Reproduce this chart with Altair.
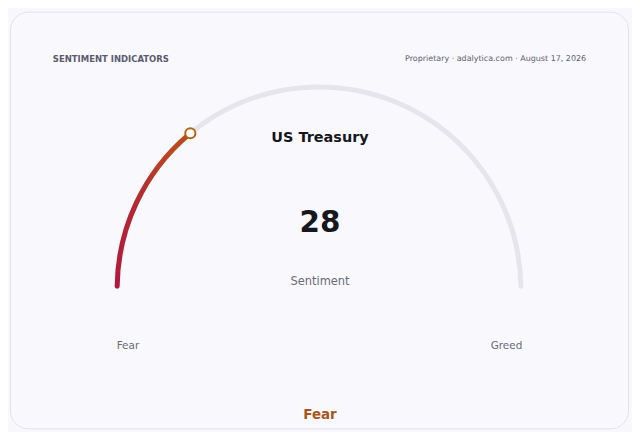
import math
import altair as alt
import pandas as pd

# ---- data ----
TITLE = ["US Treasury"]
VALUE = [28]
SCALE_MIN = [0]
SCALE_MAX = [100]
VALUE_LABEL = ["Sentiment"]
END_LABELS = ["Fear", "Greed"]
ZONE = ["Fear"]
HEADER_LEFT = ["SENTIMENT INDICATORS"]
HEADER_RIGHT = ["Proprietary · adalytica.com · August 17, 2026"]

# ---- layout ----
W, H = 620, 418
R = 202.5
XE = (W / 2) / R
CY = 278
Y_TOP = CY / R
Y_BOT = -(H - CY) / R
STROKE = 5

FONT = "DejaVu Sans"

xs = alt.Scale(domain=[-XE, XE], range=[0, W])
ys = alt.Scale(domain=[Y_BOT, Y_TOP], range=[H, 0])
ts = alt.Scale(domain=[SCALE_MIN[0], SCALE_MAX[0]], range=[-math.pi / 2, math.pi / 2])

track_df = pd.DataFrame({"start": SCALE_MIN, "end": SCALE_MAX})
val_df = pd.DataFrame({"start": SCALE_MIN, "end": VALUE, "value": VALUE,
                       "lo": SCALE_MIN, "hi": SCALE_MAX})

track = alt.Chart(track_df).mark_arc(
    radius=R + STROKE / 2, radius2=R - STROKE / 2, cornerRadius=STROKE / 2,
    color="#e5e5eb"
).encode(
    x=alt.datum(0, scale=xs, axis=None),
    y=alt.datum(0, scale=ys, axis=None),
    theta=alt.Theta("start:Q", scale=ts),
    theta2="end:Q",
)

grad = alt.LinearGradient(
    gradient="linear",
    stops=[alt.GradientStop(offset=0, color="#b3173f"),
           alt.GradientStop(offset=0.55, color="#b42a32"),
           alt.GradientStop(offset=1, color="#ba4a1c")],
    x1=0, y1=1, x2=0.6, y2=0,
)

value_arc = alt.Chart(val_df).mark_arc(
    radius=R + STROKE / 2, radius2=R - STROKE / 2, cornerRadius=STROKE / 2,
    color=grad
).encode(
    x=alt.datum(0, scale=xs, axis=None),
    y=alt.datum(0, scale=ys, axis=None),
    theta=alt.Theta("start:Q", scale=ts),
    theta2="end:Q",
)

marker = alt.Chart(val_df).transform_calculate(
    a="PI * (datum.value - datum.lo) / (datum.hi - datum.lo)",
    px="-cos(datum.a)",
    py="sin(datum.a)",
).mark_point(
    shape="circle", filled=True, fill="#fbfbfd", stroke="#b9620f",
    strokeWidth=2, size=105, opacity=1
).encode(
    x=alt.X("px:Q", scale=xs, axis=None),
    y=alt.Y("py:Q", scale=ys, axis=None),
)

def txt(data, field, x, y, size, color, weight="normal", align="center"):
    return alt.Chart(pd.DataFrame({field: data})).mark_text(
        font=FONT, fontSize=size, fontWeight=weight, color=color,
        align=align, baseline="middle"
    ).encode(x=alt.value(x), y=alt.value(y), text=f"{field}:N")

title = txt(TITLE, "t", W / 2 + 1, 127, 14.5, "#17171f", "bold")
number = txt([str(v) for v in VALUE], "t", W / 2 + 1, 212, 29.5, "#17171f", "bold")
sub = txt(VALUE_LABEL, "t", W / 2 + 1, 271, 11.5, "#6b6b78")
left_lab = txt(END_LABELS[:1], "t", 107, 335, 10.5, "#6b6b78", align="left")
right_lab = txt(END_LABELS[1:], "t", 514, 335, 10.5, "#6b6b78", align="right")
zone = txt(ZONE, "t", W / 2 + 1, 405, 13.5, "#a8561c", "bold")
hl = txt(HEADER_LEFT, "t", 43, 47, 8.5, "#5b5b70", "bold", align="left")
hr = txt(HEADER_RIGHT, "t", 578, 47, 8, "#60606e", align="right")

chart = alt.layer(
    track, value_arc, marker, title, number, sub, left_lab, right_lab, zone, hl, hr
).properties(
    width=W, height=H,
    autosize=alt.AutoSizeParams(type="none"),
    padding={"left": 2, "top": 3, "right": 4, "bottom": 3},
    background="#f8f8fc",
).configure_view(
    fill="#f9f9fd", stroke="#e1e1ea", strokeWidth=1, cornerRadius=18
)

chart.save("out.html", embed_options={"renderer": "svg", "actions": False})
